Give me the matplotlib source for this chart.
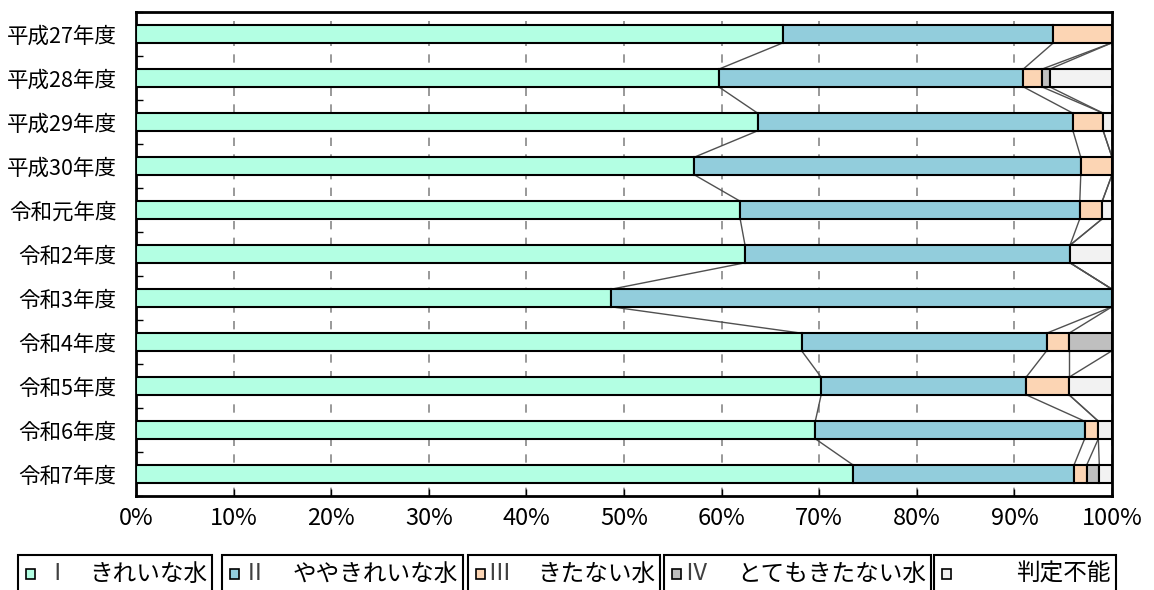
import numpy as np
import matplotlib.pyplot as plt
from matplotlib.patches import Rectangle

plt.rcParams['font.family'] = ['Noto Sans CJK JP', 'DejaVu Sans']

# データ（割合 %）
categories = ['平成27年度', '平成28年度', '平成29年度', '平成30年度', '令和元年度',
              '令和2年度', '令和3年度', '令和4年度', '令和5年度', '令和6年度', '令和7年度']
s1 = [66.3, 59.7, 63.7, 57.2, 61.9, 62.4, 48.7, 68.2, 70.2, 69.6, 73.5]
s2 = [27.7, 31.2, 32.3, 39.6, 34.8, 33.3, 51.3, 25.1, 21.0, 27.6, 22.6]
s3 = [6.0, 1.9, 3.1, 3.2, 2.3, 0.0, 0.0, 2.3, 4.4, 1.4, 1.3]
s4 = [0.0, 0.8, 0.0, 0.0, 0.0, 0.0, 0.0, 4.4, 0.0, 0.0, 1.3]
s5 = [0.0, 6.4, 0.9, 0.0, 1.0, 4.3, 0.0, 0.0, 4.4, 1.4, 1.3]
numerals = ['Ⅰ', 'Ⅱ', 'Ⅲ', 'Ⅳ', '']
names = ['きれいな水', 'ややきれいな水', 'きたない水', 'とてもきたない水', '判定不能']
colors = ['#B3FFE3', '#92CDDC', '#FCD5B4', '#BFBFBF', '#F2F2F2']

series = [s1, s2, s3, s4, s5]
n = len(categories)
y = np.arange(n)
bar_h = 0.4
W, H = 1154, 590

fig = plt.figure(figsize=(W / 100, H / 100), dpi=100)
ax = fig.add_axes([136 / W, 94 / H, 976 / W, 484 / H])

left = np.zeros(n)
cums = []
for vals, c in zip(series, colors):
    vals = np.array(vals)
    for i in range(n):
        if vals[i] > 0:
            ax.barh(y[i], vals[i], left=left[i], height=bar_h, color=c,
                    edgecolor='black', linewidth=1.5, zorder=3)
    left = left + vals
    cums.append(left.copy())

# 区分線
for cum in cums[:4]:
    for i in range(n - 1):
        ax.plot([cum[i], cum[i + 1]], [y[i] + bar_h / 2, y[i + 1] - bar_h / 2],
                color='#505050', linewidth=1.0, zorder=2)

ax.set_xlim(0, 100)
ax.set_ylim(n - 0.5, -0.5)
ax.set_xticks(np.arange(0, 101, 10))
ax.set_xticklabels([f'{v}%' for v in range(0, 101, 10)], fontsize=17)
ax.set_yticks(y)
ax.set_yticklabels(categories, fontsize=15.5)
ax.set_yticks(np.arange(-0.5, n, 1), minor=True)
ax.tick_params(axis='y', which='major', length=0, pad=14)
ax.tick_params(axis='y', which='minor', direction='in', length=5, width=1)
ax.tick_params(axis='x', direction='in', length=5, width=1, pad=8)
ax.grid(axis='x', linestyle=(0, (5, 5)), color='#888888', linewidth=1.2, zorder=0)
for sp in ax.spines.values():
    sp.set_linewidth(2)

# 凡例（各項目を枠で囲む）
box_l = [18, 222, 468, 664, 934]
box_r = [212, 463, 660, 931, 1116]
num_x = [57, 255, 499, 696, 0]
y0, y1 = 555, 594
yc = H - 574
for i in range(5):
    fig.patches.append(Rectangle((box_l[i] / W, (H - y1) / H),
                                 (box_r[i] - box_l[i]) / W, (y1 - y0) / H,
                                 transform=fig.transFigure, facecolor='white',
                                 edgecolor='black', linewidth=1.5))
    fig.patches.append(Rectangle(((box_l[i] + 8) / W, (yc - 5) / H), 9 / W, 10 / H,
                                 transform=fig.transFigure, facecolor=colors[i],
                                 edgecolor='black', linewidth=1.2))
    if numerals[i]:
        fig.text(num_x[i] / W, yc / H, numerals[i], fontsize=17, color='#404040',
                 ha='center', va='center')
    fig.text((box_r[i] - 5) / W, yc / H, names[i], fontsize=17,
             ha='right', va='center')

fig.savefig('out.png', dpi=100)
